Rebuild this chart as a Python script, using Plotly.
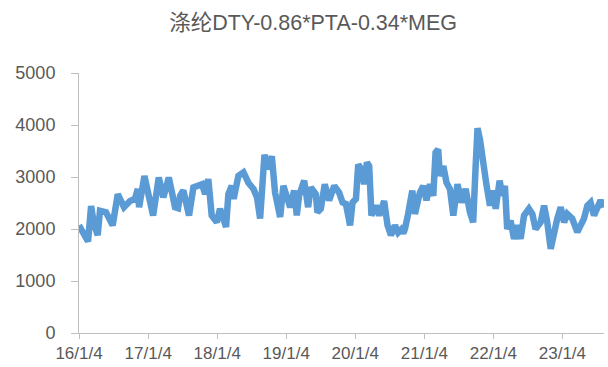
import plotly.graph_objects as go

# Spread series: DTY - 0.86*PTA - 0.34*MEG (yuan/ton)
dates = [
    "2016-01-04", "2016-01-25", "2016-02-21", "2016-03-08", "2016-03-23", "2016-04-12",
    "2016-04-24", "2016-05-26", "2016-06-30", "2016-07-27", "2016-08-29", "2016-09-30",
    "2016-10-26", "2016-11-10", "2016-11-17", "2016-12-15", "2017-01-30", "2017-03-01",
    "2017-03-25", "2017-04-23", "2017-05-10", "2017-05-26", "2017-06-11", "2017-06-22",
    "2017-07-09", "2017-08-08", "2017-08-31", "2017-09-25", "2017-10-16", "2017-11-01",
    "2017-11-18", "2017-12-06", "2018-01-02", "2018-01-19", "2018-02-04", "2018-02-20",
    "2018-03-04", "2018-03-22", "2018-04-01", "2018-04-26", "2018-05-23", "2018-06-18",
    "2018-07-15", "2018-08-03", "2018-08-19", "2018-08-28", "2018-09-11", "2018-09-27",
    "2018-10-20", "2018-11-06", "2018-12-03", "2018-12-20", "2019-01-07", "2019-01-25",
    "2019-02-15", "2019-03-01", "2019-03-13", "2019-04-09", "2019-04-30", "2019-05-14",
    "2019-06-10", "2019-06-18", "2019-07-06", "2019-07-27", "2019-08-19", "2019-09-15",
    "2019-10-11", "2019-10-29", "2019-11-16", "2019-12-08", "2019-12-21", "2020-01-08",
    "2020-01-20", "2020-02-06", "2020-02-20", "2020-03-06", "2020-03-18", "2020-03-30",
    "2020-04-22", "2020-05-10", "2020-06-05", "2020-06-23", "2020-07-11", "2020-08-01",
    "2020-08-18", "2020-09-03", "2020-09-14", "2020-09-23", "2020-10-10", "2020-11-01",
    "2020-11-15", "2020-12-11", "2020-12-29", "2021-01-15", "2021-02-02", "2021-02-20",
    "2021-03-04", "2021-03-18", "2021-03-27", "2021-04-14", "2021-05-01", "2021-05-19",
    "2021-06-06", "2021-06-28", "2021-07-20", "2021-08-10", "2021-09-02", "2021-09-19",
    "2021-10-02", "2021-10-12", "2021-10-25", "2021-11-11", "2021-11-29", "2021-12-17",
    "2022-01-03", "2022-01-16", "2022-02-06", "2022-02-20", "2022-03-06", "2022-03-18",
    "2022-04-05", "2022-04-23", "2022-05-10", "2022-05-28", "2022-06-15", "2022-07-11",
    "2022-07-29", "2022-08-15", "2022-09-11", "2022-09-29", "2022-10-16", "2022-11-03",
    "2022-11-21", "2022-12-08", "2022-12-26", "2023-01-13", "2023-01-30", "2023-02-25",
    "2023-03-24", "2023-04-10", "2023-04-28", "2023-05-16", "2023-06-02", "2023-06-20",
    "2023-07-08", "2023-07-25", "2023-08-12",
]
spread = [
    2070, 1950, 1760, 2440, 2100, 1880,
    2350, 2320, 2070, 2670, 2420, 2540,
    2580, 2770, 2420, 3020, 2260, 2990,
    2610, 2990, 2600, 2420, 2400, 2640,
    2740, 2260, 2800, 2820, 2860, 2670,
    2960, 2260, 2130, 2390, 2250, 2040,
    2670, 2830, 2580, 3020, 3090, 2890,
    2770, 2600, 2200, 2640, 3430, 3150,
    3400, 2700, 2230, 2830, 2580, 2420,
    2740, 2260, 2640, 2930, 2420, 2800,
    2670, 2320, 2390, 2860, 2550, 2830,
    2700, 2510, 2480, 2070, 2510, 2580,
    3240, 3150, 2860, 3280, 3210, 2260,
    2450, 2260, 2540, 2070, 1880, 2070,
    1930, 1990, 1920, 2000, 2290, 2740,
    2290, 2700, 2830, 2550, 2860, 2640,
    3470, 3530, 3020, 3210, 2890, 2770,
    2260, 2860, 2510, 2770, 2320, 2130,
    3210, 3940, 3720, 3150, 2830, 2450,
    2740, 2390, 2930, 2640, 2830, 2000,
    2160, 1810, 2070, 1810, 2260, 2390,
    2290, 2000, 2130, 2450, 2130, 1620,
    2000, 2200, 2420, 2130, 2290, 2200,
    1940, 2070, 2200, 2450, 2510, 2260,
    2450, 2550, 2420,
]

tick_dates = ["2016-01-04", "2017-01-04", "2018-01-04", "2019-01-04",
              "2020-01-04", "2021-01-04", "2022-01-04", "2023-01-04"]
tick_labels = ["16/1/4", "17/1/4", "18/1/4", "19/1/4",
               "20/1/4", "21/1/4", "22/1/4", "23/1/4"]
y_ticks = [0, 1000, 2000, 3000, 4000, 5000]

TEXT = "#595959"
AXIS = "#bfbfbf"
FONT = "Liberation Sans, Arial, Noto Sans CJK SC, sans-serif"

fig = go.Figure(
    go.Scatter(
        x=dates, y=spread, mode="lines",
        line=dict(color="#5B9BD5", width=6.5),
        hoverinfo="x+y",
    )
)

fig.update_layout(
    width=608, height=367,
    margin=dict(l=79, r=4, t=73, b=32),
    paper_bgcolor="white", plot_bgcolor="white",
    showlegend=False,
    font=dict(family=FONT, color=TEXT, size=18),
    title=dict(
        text="涤纶DTY-0.86*PTA-0.34*MEG",
        font=dict(family=FONT, size=21.5, color=TEXT),
        x=0.515, xref="container", xanchor="center",
        y=1 - 22 / 367, yref="container", yanchor="middle",
    ),
)

fig.update_xaxes(
    type="date",
    range=[dates[0], dates[-1]],
    tickvals=tick_dates, ticktext=tick_labels,
    showgrid=False, zeroline=False,
    showline=True, linecolor=AXIS, linewidth=1,
    ticks="outside", ticklen=5, tickcolor=AXIS,
    tickfont=dict(size=17, color=TEXT),
)
fig.update_yaxes(
    range=[0, 5000],
    tickvals=y_ticks,
    showgrid=False, zeroline=False,
    showline=True, linecolor=AXIS, linewidth=1,
    ticks="outside", ticklen=7, tickcolor=AXIS,
    ticklabelstandoff=12,
    tickfont=dict(size=18, color=TEXT),
)

fig.write_html("out.html")
